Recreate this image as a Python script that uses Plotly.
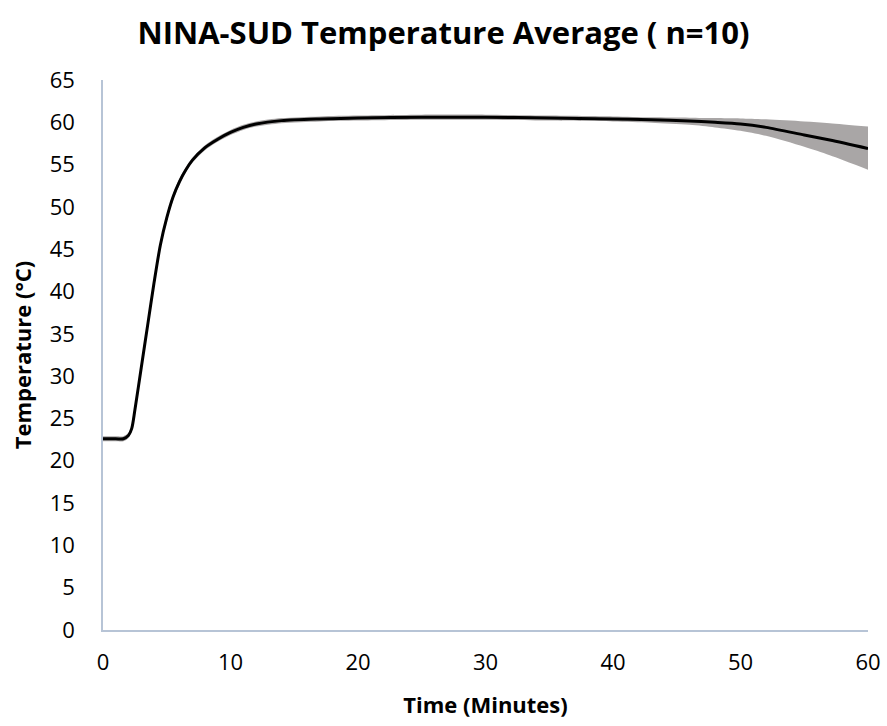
import plotly.graph_objects as go

time_min = [0, 1, 1.6, 2, 2.25, 2.5, 3, 3.5, 4, 4.5, 5, 5.5, 6, 6.5, 7, 8, 9, 10, 11, 12, 14, 17, 20, 25, 30, 35, 40, 43, 46, 48, 50, 52, 55, 57, 60]
mean_temp = [22.6, 22.6, 22.6, 23.0, 23.8, 26.0, 31.0, 36.0, 41.0, 45.5, 48.7, 51.2, 53.0, 54.4, 55.5, 57.0, 58.0, 58.8, 59.4, 59.8, 60.2, 60.4, 60.5, 60.6, 60.6, 60.5, 60.4, 60.3, 60.15, 60.0, 59.8, 59.4, 58.5, 57.9, 56.9]
upper_temp = [22.9, 22.9, 22.9, 23.3, 24.1, 26.4, 31.4, 36.4, 41.4, 45.9, 49.1, 51.6, 53.4, 54.7, 55.8, 57.3, 58.3, 59.1, 59.7, 60.1, 60.5, 60.7, 60.8, 60.9, 60.9, 60.8, 60.7, 60.6, 60.55, 60.5, 60.45, 60.35, 60.1, 59.9, 59.5]
lower_temp = [22.3, 22.3, 22.3, 22.7, 23.5, 25.6, 30.6, 35.6, 40.6, 45.1, 48.3, 50.8, 52.6, 54.1, 55.2, 56.7, 57.7, 58.5, 59.1, 59.5, 59.9, 60.1, 60.2, 60.3, 60.3, 60.2, 60.1, 59.95, 59.7, 59.4, 59.0, 58.4, 57.1, 56.1, 54.4]

x_ticks = [0, 10, 20, 30, 40, 50, 60]
y_ticks = list(range(0, 66, 5))

FONT = "Open Sans"
AXIS_COLOR = "#b7c4d6"
BAND_COLOR = "#a9a6a6"

fig = go.Figure()
fig.add_trace(go.Scatter(x=time_min, y=upper_temp, mode="lines",
                         line=dict(width=0, shape="spline", smoothing=0.8),
                         hoverinfo="skip", showlegend=False))
fig.add_trace(go.Scatter(x=time_min, y=lower_temp, mode="lines",
                         line=dict(width=0, shape="spline", smoothing=0.8),
                         fill="tonexty", fillcolor=BAND_COLOR,
                         hoverinfo="skip", showlegend=False))
fig.add_trace(go.Scatter(x=time_min, y=mean_temp, mode="lines",
                         line=dict(color="black", width=3, shape="spline", smoothing=0.8),
                         showlegend=False))

fig.update_layout(
    width=887, height=726,
    paper_bgcolor="white", plot_bgcolor="white",
    margin=dict(l=103, r=19, t=80, b=96),
    title=dict(text="<b>NINA-SUD Temperature Average ( n=10)</b>",
               x=0.5, xanchor="center", y=0.955, yanchor="middle",
               font=dict(family=FONT, size=31, color="black")),
    font=dict(family=FONT, color="black"),
)
fig.update_xaxes(range=[0, 60], tickvals=x_ticks, showgrid=False, zeroline=False,
                 showline=True, linecolor=AXIS_COLOR, linewidth=1.5, automargin=False,
                 ticks="", tickfont=dict(family=FONT, size=22, color="black"),
                 ticklabelstandoff=12,
                 title=dict(text="<b>Time (Minutes)</b>", font=dict(family=FONT, size=22, color="black"), standoff=22))
fig.update_yaxes(range=[0, 65], tickvals=y_ticks, showgrid=False, zeroline=False,
                 showline=True, linecolor=AXIS_COLOR, linewidth=1.5, automargin=False,
                 ticks="", tickfont=dict(family=FONT, size=22, color="black"),
                 ticklabelstandoff=22,
                 title=dict(text="<b>Temperature (°C)</b>", font=dict(family=FONT, size=22, color="black"), standoff=12))

fig.write_html("out.html", config={"displayModeBar": False},
               post_script="document.body.style.margin='0';document.body.style.overflow='hidden';")
